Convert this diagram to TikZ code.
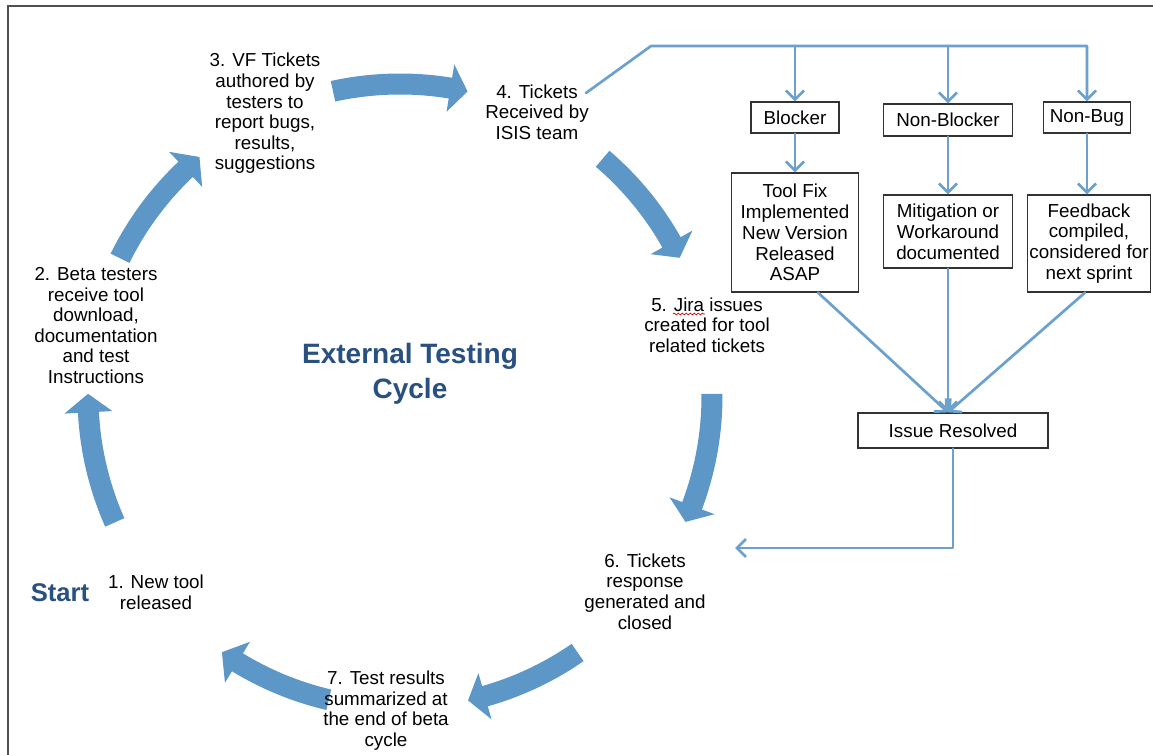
\documentclass[tikz,border=0pt]{standalone}
\usepackage{fontspec}
\setmainfont{Liberation Sans}
\usetikzlibrary{arrows.meta,decorations.pathmorphing}

\definecolor{cyclefill}{RGB}{92,151,199}
\definecolor{linkblue}{RGB}{108,160,205}
\definecolor{titleblue}{RGB}{40,80,128}
\definecolor{framegray}{RGB}{80,80,80}
\definecolor{boxgray}{RGB}{50,50,50}

% geometry of the ring of block arrows (pixel-like units)
\def\cycx{400}
\def\cycy{396}
\def\cycr{312}
\def\cycsw{10.5}
\def\cychw{24}

% curved block arrow: #1 tail angle, #2 end of shaft, #3 tip angle
\newcommand{\ringarrow}[3]{%
  \fill[cyclefill]
    plot[domain=#1:#2,samples=40] ({\cycx+(\cycr+\cycsw)*cos(\x)},{\cycy+(\cycr+\cycsw)*sin(\x)})
    -- ({\cycx+(\cycr+\cychw)*cos(#2)},{\cycy+(\cycr+\cychw)*sin(#2)})
    -- ({\cycx+\cycr*cos(#3)},{\cycy+\cycr*sin(#3)})
    -- ({\cycx+(\cycr-\cychw)*cos(#2)},{\cycy+(\cycr-\cychw)*sin(#2)})
    -- plot[domain=#1:#2,samples=40] ({\cycx+(\cycr-\cycsw)*cos(#1+#2-\x)},{\cycy+(\cycr-\cycsw)*sin(#1+#2-\x)})
    -- cycle;}

\tikzset{
  steptext/.style={align=center, inner sep=0pt, text=black,
    font=\fontsize{9.4}{10.3}\selectfont},
  titletext/.style={align=center, inner sep=0pt, text=titleblue,
    font=\fontsize{14}{17.5}\selectfont\bfseries},
  boxnode/.style={draw=boxgray, line width=0.6pt, fill=white, align=center,
    inner sep=0pt, font=\fontsize{9.4}{10.4}\selectfont},
  link/.style={draw=linkblue, line width=1.35pt, line join=round, line cap=round},
  flow/.style={link, -{Straight Barb[length=4.5pt,width=9pt]}},
}

\begin{document}
\begin{tikzpicture}[x=0.5pt, y=-0.5pt]
  \useasboundingbox (0,0) rectangle (1153,755);
  \fill[white] (0,0) rectangle (1153,755);

  % page frame
  \draw[framegray, line width=1pt] (1153,6.3) -- (7.8,6.3) -- (7.8,755);

  % cycle arrows
  \ringarrow{156.1}{177.0}{180.4}
  \ringarrow{206.2}{226.6}{230.0}
  \ringarrow{257.6}{279.3}{282.5}
  \ringarrow{310.5}{330.5}{333.7}
  \ringarrow{359.6}{380.6}{383.8}
  \ringarrow{55.3}{74.2}{77.4}
  \ringarrow{103.2}{121.4}{124.8}

  % cycle labels
  \node[titletext] (title) at (410,374) {External Testing\\Cycle};
  \node[titletext, font=\fontsize{12.8}{15}\selectfont\bfseries] (start) at (60,592.5) {Start};
  \node[steptext] (s1) at (156,592) {1. New tool\\released};
  \node[steptext] (s2) at (96,325.5) {2. Beta testers\\receive tool\\download,\\documentation\\and test\\Instructions};
  \node[steptext] (s3) at (265,113.5) {3. VF Tickets\\authored by\\testers to\\report bugs,\\results,\\suggestions};
  \node[steptext] (s4) at (537,112) {4. Tickets\\Received by\\ISIS team};
  \node[steptext] (s5) at (707,325) {5. Jira issues\\created for tool\\related tickets};
  \node[steptext] (s6) at (645,591.5) {6. Tickets\\response\\generated and\\closed};
  \node[steptext] (s7) at (386,710.5) {7. Test results\\summarized at\\the end of beta\\cycle};

  % spelling mark under "Jira"
  \draw[red!85!black, line width=0.35pt, decorate,
        decoration={snake, amplitude=0.45pt, segment length=2pt}]
        (673,314) -- (705,314);

  % triage boxes
  \node[boxnode, minimum width=44pt, minimum height=15.5pt] (blocker) at (795,117.5) {Blocker};
  \node[boxnode, minimum width=64.5pt, minimum height=16pt] (nonblocker) at (948,120) {Non-Blocker};
  \node[boxnode, minimum width=43.5pt, minimum height=15.5pt] (nonbug) at (1087,117.5) {Non-Bug};
  \node[boxnode, minimum width=63.5pt, minimum height=59.5pt] (toolfix) at (795,232.5)
    {Tool Fix\\Implemented\\New Version\\Released\\ASAP};
  \node[boxnode, minimum width=64.5pt, minimum height=36.5pt] (mitigation) at (948,231.5)
    {Mitigation or\\Workaround\\documented};
  \node[boxnode, minimum width=61.5pt, minimum height=48.5pt] (feedback) at (1089,243.5)
    {Feedback\\compiled,\\considered for\\next sprint};
  \node[boxnode, minimum width=95pt, minimum height=17.5pt] (resolved) at (953,430.5) {Issue Resolved};

  % triage connectors
  \coordinate (busstart) at (586,93);
  \coordinate (busbend) at (651,46);
  \coordinate (merge) at (mitigation.south |- resolved.north);
  \coordinate (retend) at (735,548);

  \draw[flow] (busstart) -- (busbend) -- (busbend -| nonbug.north) -- (nonbug.north);
  \draw[flow] (busbend -| blocker.north) -- (blocker.north);
  \draw[flow] (busbend -| nonblocker.north) -- (nonblocker.north);

  \draw[flow] (blocker.south) -- (toolfix.north);
  \draw[flow] (nonblocker.south) -- (mitigation.north);
  \draw[flow] (nonbug.south) -- (nonbug.south |- feedback.north);

  \draw[flow] ([xshift=11.5pt]toolfix.south) -- (merge);
  \draw[flow] (mitigation.south) -- (merge);
  \draw[flow] ([xshift=-2pt]feedback.south) -- (merge);

  \draw[flow] (resolved.south) -- (resolved.south |- retend) -- (retend);
\end{tikzpicture}
\end{document}
